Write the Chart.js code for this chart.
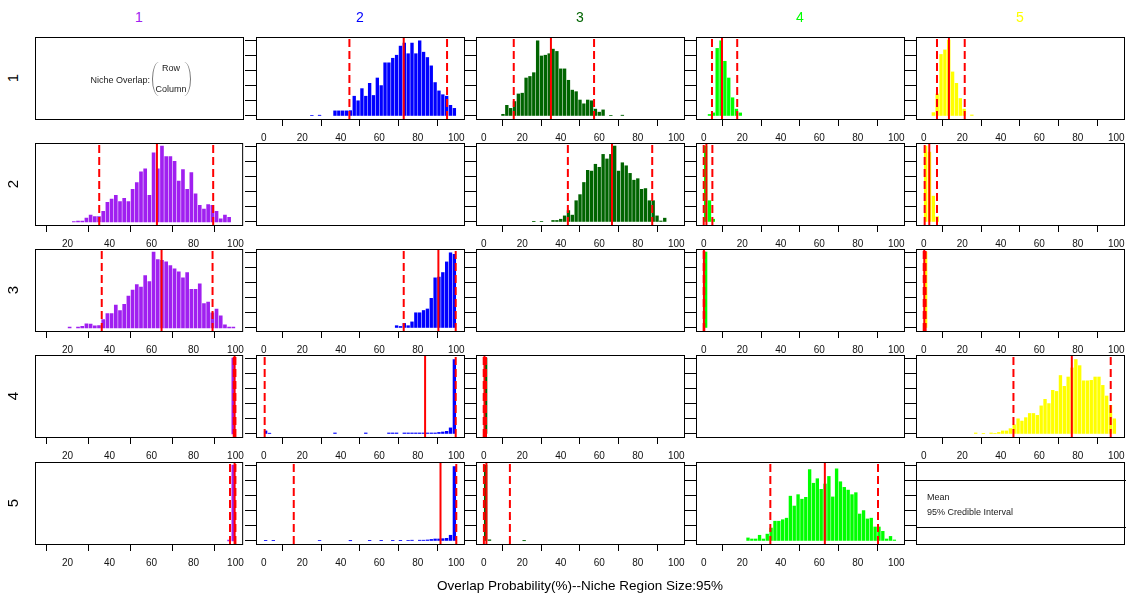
<!DOCTYPE html>
<html>
<head>
<meta charset="utf-8">
<script src="https://cdn.jsdelivr.net/npm/chart.js@4.4.0/dist/chart.umd.min.js"></script>
<style>
  body { margin: 0; background: #fff; width: 1126px; height: 597px; overflow: hidden; position: relative;
         font-family: "Liberation Sans", Arial, Helvetica, sans-serif; }
  canvas { position: absolute; }
  .txt { position: absolute; white-space: nowrap; line-height: 1; }
</style>
</head>
<body>
<script>
// bin centres (%) and bar heights (scaled so the top y tick = 100)
const r1c2Bins = [25,29,37,39,41,43,45,47,49,51,53,55,57,59,61,63,65,67,69,71,73,75,77,79,81,83,85,87,89,91,93,95,97,99];
const r1c2Heights = [0.8,1,6.7,6.7,6.7,6.7,7,26,20,36,26,43,27,50,40,70,70,76,80,92,96,82,96,82,99,84,77,66,44,33,28,26,14,10];
const r1c3Bins = [10,12,14,16,18,20,22,24,26,28,30,32,34,36,38,40,42,44,46,48,50,52,54,56,58,60,62,66,72];
const r1c3Heights = [2.2,14,10,19,29,30,50,52,57,99,79,80,82,88,85,62,62,47,34,32,21,16,21,20,9,5,8,0.5,1];
const r1c4Bins = [3,5,7,9,11,13,15,17,19];
const r1c4Heights = [2,4,89,99,72,50,24,9,4];
const r1c5Bins = [5,7,9,11,13,15,17,19,21,25];
const r1c5Heights = [4.4,29,81,87,100,58,43,23,9,1.3];

const r2c1Bins = [23,25,27,29,31,33,35,37,39,41,43,45,47,49,51,53,55,57,59,61,63,65,67,69,71,73,75,77,79,81,83,85,87,89,91,93,95,97];
const r2c1Heights = [0.5,1.3,1,5,9,7,7,14,26,30,35,27,31,27,43,52,66,70,35,91,70,100,86,86,80,54,69,43,65,37,22,17,23,22,14,4,9,6];
const r2c3Bins = [26,30,36,38,40,42,44,46,48,50,52,54,56,58,60,62,64,66,68,70,72,74,76,78,80,82,84,86,88,90,92,94];
const r2c3Heights = [0.4,0.8,2,2,3.6,8,15,9,28,36,52,68,67,76,72,89,83,89,100,67,78,74,64,55,57,43,44,28,28,8,1.3,5];
const r2c4Bins = [1,3,5];
const r2c4Heights = [100,28,3.6];
const r2c5Bins = [1,3,5,7];
const r2c5Heights = [100,92,34,7];

const r3c1Bins = [21,25,27,29,31,33,35,37,39,41,43,45,47,49,51,53,55,57,59,61,63,65,67,69,71,73,75,77,79,81,83,85,87,89,91,93,95,97,99];
const r3c1Heights = [1,1,2,5.4,5,2.7,3,11,19,19,30,23,31,42,50,57,54,69,61,100,90,89,87,82,78,74,66,73,51,51,58,32,34,20,25,16,4,1,1];
const r3c2Bins = [69,71,73,75,77,79,81,83,85,87,89,91,93,95,97,99];
const r3c2Heights = [3,2,6,3,8,20,20,23,25,39,66,67,73,87,99,97];
const r3c4Bins = [1];
const r3c4Heights = [100];
const r3c5Bins = [1];
const r3c5Heights = [100];

const r4c1Bins = [99];
const r4c1Heights = [100];
const r4c2Bins = [1,3,37,53,65,67,69,73,75,77,79,81,83,85,87,89,91,93,95,97,99];
const r4c2Heights = [4,1,1.3,1.3,1.3,1.3,1.3,1.3,1.3,1.3,1.3,1.3,1.3,1.3,1.3,1.3,2,2.6,3.5,8,98];
const r4c3Bins = [1];
const r4c3Heights = [100];
const r4c5Bins = [27,31,35,37,39,41,43,45,47,49,51,53,55,57,59,61,63,65,67,69,71,73,75,77,79,81,83,85,87,89,91,93,95,97,99];
const r4c5Heights = [1.3,0.5,1.3,0.5,2,4,4,7,12,20,17,21.5,27,27,24.5,37,45.6,40,57.5,56,77,62.7,75,87,98,90,70,70,70.6,75,75,64,50,37.7,20];

const r5c1Bins = [97,99];
const r5c1Heights = [1,100];
const r5c2Bins = [1,5,29,45,55,61,67,71,75,77,81,83,85,87,89,91,93,95,97,99];
const r5c2Heights = [0.4,0.4,0.5,0.3,0.4,0.4,0.4,0.4,0.5,1,1,1,1.3,2,2.6,2.6,3,3.5,7.5,98];
const r5c3Bins = [1,3,21];
const r5c3Heights = [100,1.5,0.3];
const r5c4Bins = [23,25,27,29,31,33,35,37,39,41,43,45,47,49,51,53,55,57,59,61,63,65,67,69,71,73,75,77,79,81,83,85,87,89,91,93,95,97,99];
const r5c4Heights = [4,2.6,2.6,7.5,2.6,9,17,26,26,28,30,59,46,61,55,57.5,94,76,82,68,75,85,58,95,78,70.6,67,61,63.6,35.5,40,29,30,18.4,18.4,12.7,2.6,6,1.3];

// mean and 95% credible interval (%)
const r1c2Mean = 72.7, r1c2Ci = [44.5, 95.2];
const r1c3Mean = 34.9, r1c3Ci = [15.6, 57.3];
const r1c4Mean = 9.5,  r1c4Ci = [4.3, 17.4];
const r1c5Mean = 13.1, r1c5Ci = [6.9, 21.3];
const r2c1Mean = 62.6, r2c1Ci = [35.1, 89.4];
const r2c3Mean = 66.6, r2c3Ci = [43.7, 87.5];
const r2c4Mean = 1.4,  r2c4Ci = [0, 4.5];
const r2c5Mean = 2.9,  r2c5Ci = [0.5, 6.9];
const r3c1Mean = 64.8, r3c1Ci = [36.3, 89.1];
const r3c2Mean = 90.7, r3c2Ci = [72.7, 99.7];
const r3c4Mean = 0.1,  r3c4Ci = [0, 0.3];
const r3c5Mean = 0.3,  r3c5Ci = [0, 1];
const r4c1Mean = 99.6, r4c1Ci = [99.2, 100];
const r4c2Mean = 83.8, r4c2Ci = [0.5, 99.7];
const r4c3Mean = 0.4,  r4c3Ci = [0, 1.2];
const r4c5Mean = 76.9, r4c5Ci = [46.6, 97.1];
const r5c1Mean = 99.6, r5c1Ci = [97.4, 100];
const r5c2Mean = 91.8, r5c2Ci = [15.6, 100];
const r5c3Mean = 1.4,  r5c3Ci = [0.1, 13.6];
const r5c4Mean = 62.9, r5c4Ci = [34.6, 90.5];

const speciesLabels = ['1', '2', '3', '4', '5'];
const col1Ticks = [20, 40, 60, 80, 100];
const xTicks = [0, 20, 40, 60, 80, 100];
const yTicks = [0, 20, 40, 60, 80, 100];

const colColors = ['#A020F0', '#0000FF', '#006400', '#00FF00', '#FFFF00'];
const colLeft = [35, 256, 476, 696, 916];
const rowTop = [37, 143, 249, 355, 462];
const PW = 208, PH = 82, PADR = 7;

function h(bins, heights, mean, ci) {
    return {bins, heights, mean, ci};
}

const grid = [
    ['legendA', h(r1c2Bins, r1c2Heights, r1c2Mean, r1c2Ci), h(r1c3Bins, r1c3Heights, r1c3Mean, r1c3Ci), h(r1c4Bins, r1c4Heights, r1c4Mean, r1c4Ci), h(r1c5Bins, r1c5Heights, r1c5Mean, r1c5Ci)],
    [h(r2c1Bins, r2c1Heights, r2c1Mean, r2c1Ci), null, h(r2c3Bins, r2c3Heights, r2c3Mean, r2c3Ci), h(r2c4Bins, r2c4Heights, r2c4Mean, r2c4Ci), h(r2c5Bins, r2c5Heights, r2c5Mean, r2c5Ci)],
    [h(r3c1Bins, r3c1Heights, r3c1Mean, r3c1Ci), h(r3c2Bins, r3c2Heights, r3c2Mean, r3c2Ci), null, h(r3c4Bins, r3c4Heights, r3c4Mean, r3c4Ci), h(r3c5Bins, r3c5Heights, r3c5Mean, r3c5Ci)],
    [h(r4c1Bins, r4c1Heights, r4c1Mean, r4c1Ci), h(r4c2Bins, r4c2Heights, r4c2Mean, r4c2Ci), h(r4c3Bins, r4c3Heights, r4c3Mean, r4c3Ci), null, h(r4c5Bins, r4c5Heights, r4c5Mean, r4c5Ci)],
    [h(r5c1Bins, r5c1Heights, r5c1Mean, r5c1Ci), h(r5c2Bins, r5c2Heights, r5c2Mean, r5c2Ci), h(r5c3Bins, r5c3Heights, r5c3Mean, r5c3Ci), h(r5c4Bins, r5c4Heights, r5c4Mean, r5c4Ci), 'legendB'],
];

// full box around each plot region
const boxPlugin = {
    id: 'box',
    afterDraw(chart) {
        const a = chart.chartArea;
        const ctx = chart.ctx;
        ctx.save();
        ctx.strokeStyle = '#000';
        ctx.lineWidth = 1;
        ctx.strokeRect(a.left + 0.5, a.top + 0.5, a.right - a.left, a.bottom - a.top);
        ctx.restore();
    }
};

function vline(x, dash) {
    return {
        type: 'line',
        data: [{x: x, y: -4}, {x: x, y: 104}],
        borderColor: '#FF0000',
        borderWidth: 2,
        borderDash: dash,
        pointRadius: 0,
        clip: 0,
        order: 1
    };
}

function drawPanel(r, c, cell) {
    const canvas = document.createElement('canvas');
    canvas.width = 12 + PW + PADR;
    canvas.height = PH + 31;
    canvas.style.left = (colLeft[c] - 12) + 'px';
    canvas.style.top = (rowTop[r] - 1) + 'px';
    document.body.appendChild(canvas);

    const isHist = cell && typeof cell === 'object';
    const datasets = [];
    if (isHist) {
        datasets.push({
            type: 'bar',
            data: cell.bins.map((b, i) => ({x: b, y: cell.heights[i]})),
            backgroundColor: colColors[c],
            borderWidth: 0,
            barThickness: c === 0 ? 3 : 2.7,
            order: 2
        });
        datasets.push(vline(cell.mean, []));
        cell.ci.forEach(v => datasets.push(vline(v, [8, 4])));
    }
    const ticks = c === 0 ? col1Ticks : xTicks;

    new Chart(canvas, {
        type: 'bar',
        data: {datasets},
        plugins: [boxPlugin],
        options: {
            responsive: false,
            animation: false,
            events: [],
            devicePixelRatio: 1,
            layout: {padding: {top: 1, right: PADR, left: 0, bottom: 0}},
            plugins: {legend: {display: false}, tooltip: {enabled: false}},
            scales: {
                x: {
                    type: 'linear',
                    min: c === 0 ? 4.5 : -4,
                    max: c === 0 ? 103.2 : 104,
                    offset: false,
                    afterBuildTicks: a => { a.ticks = ticks.map(v => ({value: v})); },
                    afterFit: s => { s.height = 30; },
                    grid: {display: isHist, drawOnChartArea: false, tickLength: 7, color: '#000'},
                    border: {display: false},
                    ticks: {
                        display: isHist, color: '#111', padding: 6, maxRotation: 0, autoSkip: false,
                        font: {size: 10, family: '"Liberation Sans", Arial, sans-serif'},
                        callback: v => String(v)
                    }
                },
                y: {
                    min: -4,
                    max: 104,
                    afterBuildTicks: a => { a.ticks = yTicks.map(v => ({value: v})); },
                    afterFit: s => { s.width = 12; },
                    grid: {display: c > 0, drawOnChartArea: false, tickLength: 11, color: '#000'},
                    border: {display: false},
                    ticks: {display: false}
                }
            }
        }
    });
}

grid.forEach((row, r) => row.forEach((cell, c) => drawPanel(r, c, cell)));

function addText(str, css) {
    const d = document.createElement('div');
    d.className = 'txt';
    d.textContent = str;
    Object.assign(d.style, css);
    document.body.appendChild(d);
    return d;
}

// column headers and row labels
speciesLabels.forEach((s, i) => {
    addText(s, {left: (colLeft[i] + PW / 2) + 'px', top: '17px', fontSize: '14px', color: colColors[i],
        transform: 'translate(-50%, -50%)'});
    addText(s, {left: '12px', top: (rowTop[i] + PH / 2) + 'px', fontSize: '15px', color: '#000',
        transform: 'translate(-50%, -50%) rotate(-90deg)'});
});

// top-left legend
addText('Niche Overlap:', {left: '150px', top: '80px', fontSize: '9px', color: '#222', transform: 'translate(-100%, -50%)'});
const brace = document.createElement('div');
Object.assign(brace.style, {position: 'absolute', left: '152px', top: '62px', width: '37px', height: '34px',
    borderLeft: '1px solid #777', borderRight: '1px solid #777', borderRadius: '7px / 17px'});
document.body.appendChild(brace);
addText('Row', {left: '171px', top: '68px', fontSize: '9px', color: '#222', transform: 'translate(-50%, -50%)'});
addText('Column', {left: '171px', top: '89px', fontSize: '9px', color: '#222', transform: 'translate(-50%, -50%)'});

// bottom-right legend
[480, 527].forEach(y => {
    const l = document.createElement('div');
    Object.assign(l.style, {position: 'absolute', left: '916px', top: y + 'px', width: '210px', height: '0',
        borderTop: '1px solid #000'});
    document.body.appendChild(l);
});
addText('Mean', {left: '927px', top: '497px', fontSize: '9px', color: '#222', transform: 'translateY(-50%)'});
addText('95% Credible Interval', {left: '927px', top: '512px', fontSize: '9px', color: '#222', transform: 'translateY(-50%)'});

// x title
addText('Overlap Probability(%)--Niche Region Size:95%', {left: '580px', top: '586px', fontSize: '13.5px', color: '#000',
    transform: 'translate(-50%, -50%)'});
</script>
</body>
</html>
